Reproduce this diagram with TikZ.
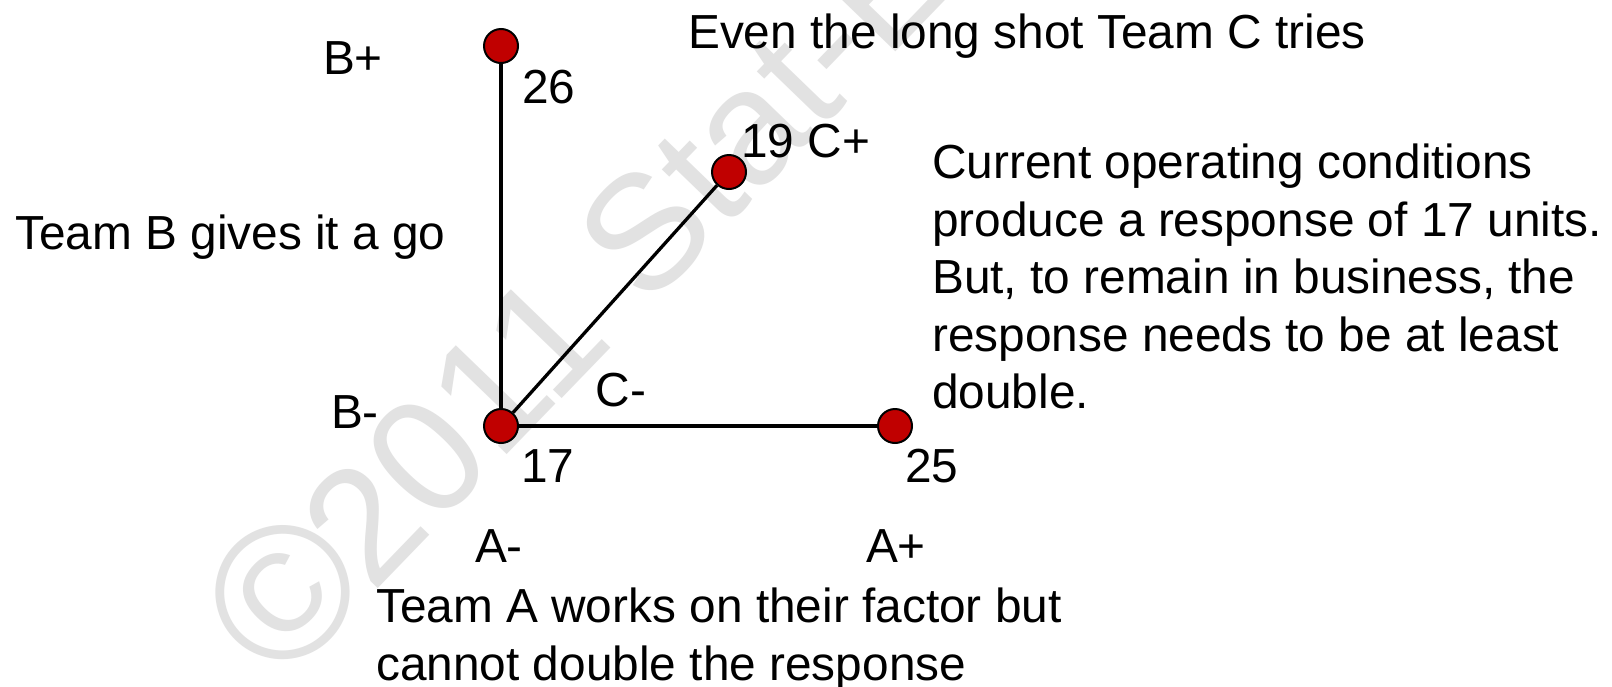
\documentclass[tikz,border=0pt]{standalone}
\usepackage{fontspec}
\setmainfont{Liberation Sans}
\definecolor{dotred}{HTML}{C00000}
\definecolor{wm}{HTML}{E2E2E2}
\begin{document}
\begin{tikzpicture}[x=1pt,y=-1pt,
  dot/.style={circle,draw=black,line width=2pt,fill=dotred,minimum size=34pt,inner sep=0pt},
  lbl/.style={inner sep=0pt,font=\fontsize{47.8}{57.5}\selectfont},
  edge/.style={line width=3.3pt,black}]
\clip (0,0) rectangle (1612,686);
\fill[white] (0,0) rectangle (1612,686);
% watermark
\node[inner sep=0pt,anchor=base west,rotate=46,text=wm,font=\fontsize{163}{163}\selectfont] (wmark) at (281.5,688.5) {{\fontsize{190}{190}\selectfont ©}\kern-9pt 2011 Stat-Ease};
% dots
\node[dot] (bp) at (501,46) {};
\node[dot] (o) at (501,426) {};
\node[dot] (ap) at (895,426) {};
\node[dot] (cp) at (729,172) {};
\draw[edge] (bp) -- (o);
\draw[edge] (o) -- (ap);
\draw[edge] (o) -- (cp);
% labels
\node[lbl,anchor=base] (lbp) at (353,74) {B+};
\node[lbl,anchor=base west] (l26) at (522,103) {26};
\node[lbl,anchor=base west] (title) at (688,48) {Even the long shot Team C tries};
\node[lbl,anchor=base west] (l19) at (741,157) {19 C+};
\node[lbl,anchor=base west] (tb) at (15,249) {Team B gives it a go};
\node[lbl,anchor=base] (lcm) at (621,406) {C-};
\node[lbl,anchor=base] (lbm) at (355,428) {B-};
\node[lbl,anchor=base west] (l17) at (521,482) {17};
\node[lbl,anchor=base west] (l25) at (905,482) {25};
\node[lbl,anchor=base] (lam) at (499,562) {A-};
\node[lbl,anchor=base] (lap) at (896,562) {A+};
\node[lbl,anchor=north west,align=left] (para) at (932,144) {Current operating conditions\\produce a response of 17 units.\\But, to remain in business, the\\response needs to be at least\\double.};
\node[lbl,anchor=north west,align=left] (ta) at (376,588) {Team A works on their factor but\\cannot double the response};
\end{tikzpicture}
\end{document}
